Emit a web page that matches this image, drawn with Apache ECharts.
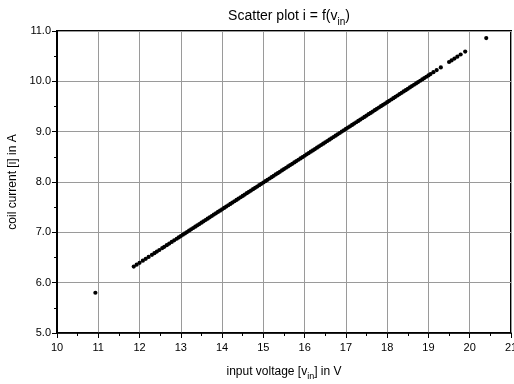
<!DOCTYPE html>
<html>
<head>
<meta charset="utf-8">
<script src="https://cdn.jsdelivr.net/npm/echarts@6/dist/echarts.min.js"></script>
<style>
  html, body { margin: 0; padding: 0; background: #fff; }
  #main { width: 514px; height: 384px; }
</style>
</head>
<body>
<div id="main"></div>
<script>
var outlierV = [10.93, 20.40];
var outlierI = [5.80, 10.86];

var lowTailV = [11.86, 11.93, 12.00, 12.08, 12.15, 12.22, 12.30, 12.36, 12.42, 12.48, 12.55, 12.60, 12.66, 12.72, 12.78, 12.84, 12.90, 12.95];
var lowTailI = [6.320, 6.357, 6.394, 6.437, 6.474, 6.511, 6.554, 6.586, 6.617, 6.649, 6.687, 6.713, 6.745, 6.777, 6.809, 6.841, 6.873, 6.899];

var bandV = [
  13.00, 13.05, 13.10, 13.15, 13.20, 13.25, 13.30, 13.35, 13.40, 13.45, 13.50, 13.55, 13.60, 13.65, 13.70, 13.75, 13.80, 13.85, 13.90, 13.95,
  14.00, 14.05, 14.10, 14.15, 14.20, 14.25, 14.30, 14.35, 14.40, 14.45, 14.50, 14.55, 14.60, 14.65, 14.70, 14.75, 14.80, 14.85, 14.90, 14.95,
  15.00, 15.05, 15.10, 15.15, 15.20, 15.25, 15.30, 15.35, 15.40, 15.45, 15.50, 15.55, 15.60, 15.65, 15.70, 15.75, 15.80, 15.85, 15.90, 15.95,
  16.00, 16.05, 16.10, 16.15, 16.20, 16.25, 16.30, 16.35, 16.40, 16.45, 16.50, 16.55, 16.60, 16.65, 16.70, 16.75, 16.80, 16.85, 16.90, 16.95,
  17.00, 17.05, 17.10, 17.15, 17.20, 17.25, 17.30, 17.35, 17.40, 17.45, 17.50, 17.55, 17.60, 17.65, 17.70, 17.75, 17.80, 17.85, 17.90, 17.95,
  18.00, 18.05, 18.10, 18.15, 18.20, 18.25, 18.30, 18.35, 18.40, 18.45, 18.50, 18.55, 18.60, 18.65, 18.70, 18.75, 18.80, 18.85, 18.90, 18.95, 19.00
];
var bandI = [
  6.926, 6.953, 6.979, 7.006, 7.032, 7.059, 7.086, 7.112, 7.139, 7.165, 7.192, 7.219, 7.245, 7.272, 7.298, 7.325, 7.352, 7.378, 7.405, 7.431,
  7.458, 7.485, 7.511, 7.538, 7.564, 7.591, 7.618, 7.644, 7.671, 7.697, 7.724, 7.751, 7.777, 7.804, 7.830, 7.857, 7.884, 7.910, 7.937, 7.963,
  7.990, 8.017, 8.043, 8.070, 8.096, 8.123, 8.150, 8.176, 8.203, 8.229, 8.256, 8.283, 8.309, 8.336, 8.362, 8.389, 8.416, 8.442, 8.469, 8.495,
  8.522, 8.549, 8.575, 8.602, 8.628, 8.655, 8.682, 8.708, 8.735, 8.761, 8.788, 8.815, 8.841, 8.868, 8.894, 8.921, 8.948, 8.974, 9.001, 9.027,
  9.054, 9.081, 9.107, 9.134, 9.160, 9.187, 9.214, 9.240, 9.267, 9.293, 9.320, 9.347, 9.373, 9.400, 9.426, 9.453, 9.480, 9.506, 9.533, 9.559,
  9.586, 9.613, 9.639, 9.666, 9.692, 9.719, 9.746, 9.772, 9.799, 9.825, 9.852, 9.879, 9.905, 9.932, 9.958, 9.985, 10.012, 10.038, 10.065, 10.091, 10.118
];

var highTailV = [19.05, 19.12, 19.20, 19.30, 19.50, 19.56, 19.63, 19.70, 19.78, 19.89];
var highTailI = [10.145, 10.182, 10.224, 10.277, 10.384, 10.416, 10.453, 10.490, 10.533, 10.591];

var xTicks = [10, 21];   // axis range in V
var yTicks = [5, 11];    // axis range in A

function zip(xs, ys) {
  var out = [];
  for (var k = 0; k < xs.length; k++) out.push([xs[k], ys[k]]);
  return out;
}

var allPoints = [].concat(
  zip(outlierV, outlierI),
  zip(lowTailV, lowTailI),
  zip(bandV, bandI),
  zip(highTailV, highTailI)
);

var font = 'Liberation Sans, Arial, sans-serif';
var myChart = echarts.init(document.getElementById('main'));
myChart.setOption({
  animation: false,
  textStyle: { fontFamily: font },
  title: {
    text: '{a|Scatter plot i = f(v}{s|in}{a|)}',
    left: 284,
    top: 0,
    textAlign: 'center',
    textStyle: {
      rich: {
        a: { fontSize: 14, color: '#000', fontWeight: 'normal', lineHeight: 22, fontFamily: font },
        s: { fontSize: 10, color: '#000', fontWeight: 'normal', lineHeight: 10, verticalAlign: 'bottom', fontFamily: font }
      }
    }
  },
  grid: {//边框
    left: 57, right: 3, top: 31, bottom: 51,
    outerBoundsMode: 'none',
    containLabel: false,
    show: true,
    borderColor: '#000',
    borderWidth: 2
  },
  xAxis: {
    type: 'value',
    min: xTicks[0], max: xTicks[1], interval: 1,
    name: '{a|input voltage [v}{s|in}{a|] in V}',
    nameLocation: 'middle',
    nameGap: 30,
    nameTextStyle: {
      rich: {
        a: { fontSize: 12, color: '#000', lineHeight: 18, fontFamily: font },
        s: { fontSize: 9, color: '#000', lineHeight: 9, verticalAlign: 'bottom', fontFamily: font }
      }
    },
    axisLine: { show: true, lineStyle: { color: '#000', width: 1.5 } },
    axisTick: { show: true, inside: false, length: 5, lineStyle: { color: '#000' } },
    minorTick: { show: true, splitNumber: 2, length: 3, lineStyle: { color: '#000' } },
    axisLabel: { color: '#000', fontSize: 11, margin: 9, fontFamily: font, hideOverlap: false },
    splitLine: { show: true, lineStyle: { color: '#9a9a9a', width: 1 } }
  },
  yAxis: {
    type: 'value',
    min: yTicks[0], max: yTicks[1], interval: 1,
    name: 'coil current [i] in A',
    nameLocation: 'middle',
    nameGap: 30,
    nameTextStyle: { color: '#000', fontSize: 12, fontFamily: font },
    axisLine: { show: true, lineStyle: { color: '#000', width: 1 } },
    axisTick: { show: true, inside: false, length: 5, lineStyle: { color: '#000' } },
    minorTick: { show: true, splitNumber: 2, length: 3, lineStyle: { color: '#000' } },
    axisLabel: {
      color: '#000', fontSize: 11, margin: 6, fontFamily: font,
      formatter: function (v) { return v.toFixed(1); }
    },
    splitLine: { show: true, lineStyle: { color: '#9a9a9a', width: 1 } }
  },
  series: [{
    type: 'scatter',
    data: allPoints,
    symbol: 'circle',
    symbolSize: 4.2,
    itemStyle: { color: '#000', opacity: 1 },
    silent: true
  }]
});
</script>
</body>
</html>
